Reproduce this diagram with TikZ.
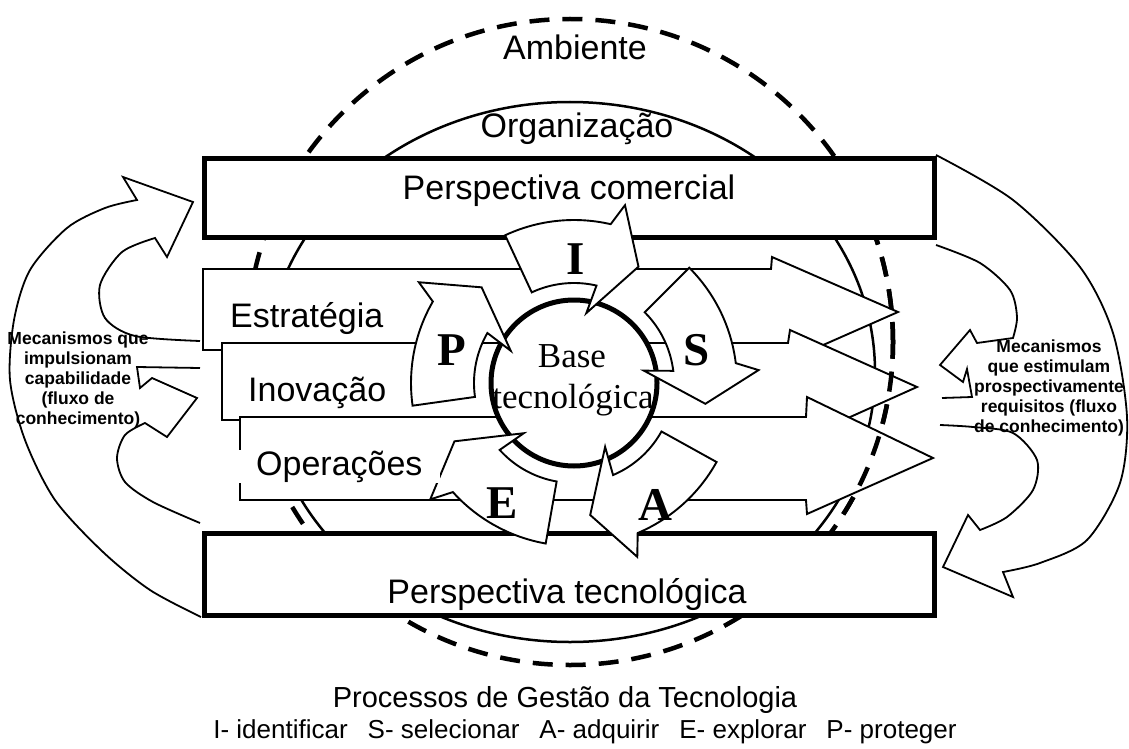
\documentclass[tikz,border=0pt]{standalone}
\usepackage{fontspec}
\setmainfont{Liberation Sans}
\newfontfamily\serifface{Liberation Serif}

% one curved process arrow around the technology base, #1 = start angle
\newcommand\ringarrow[1]{%
  \draw[ringarrow] plot[domain=#1:#1-38, samples=24, variable=\t]
      ({574+163*cos(\t)},{383-163*sin(\t)})
    -- ({574+185*cos(#1-41)},{383-185*sin(#1-41)})
    -- ({574+133*cos(#1-54)},{383-133*sin(#1-54)})
    -- ({574+71*cos(#1-35)},{383-71*sin(#1-35)})
    -- plot[domain=#1-38:#1, samples=24, variable=\t]
      ({574+100*cos(\t)},{383-100*sin(\t)})
    -- cycle;}

\begin{document}
\begin{tikzpicture}[x=1pt,y=-1pt,
  envline/.style={line width=4.5pt, dash pattern=on 20pt off 13pt},
  orgline/.style={line width=2.5pt},
  bigbox/.style={draw, line width=5pt, fill=white},
  band/.style={draw, line width=1.9pt, fill=white, line join=miter},
  ringarrow/.style={draw, line width=1.9pt, fill=white, line join=miter},
  sidearrow/.style={draw, line width=1.8pt, line join=miter},
  label/.style={font=\fontsize{34}{40}\selectfont, anchor=base, inner sep=0pt},
  sidetext/.style={font=\bfseries\fontsize{17.5}{20}\selectfont, align=center, inner sep=0pt},
  letter/.style={font=\serifface\bfseries\fontsize{47}{47}\selectfont, inner sep=0pt},
  basetext/.style={font=\serifface\fontsize{35}{41}\selectfont, anchor=base, inner sep=0pt},
]
\useasboundingbox[fill=white] (0,0) rectangle (1129,749);

% environment and organisation boundaries
\draw[envline] (570,342) circle[radius=323pt];
\draw[orgline] (570,372) ellipse[x radius=305pt, y radius=270pt];

% commercial and technological perspectives
\draw[bigbox] (204,158) rectangle (934,237);
\draw[bigbox] (204,533) rectangle (934,615);

% strategy, innovation and operations bands
\draw[band] (203,269) -- (771,269) -- (772,257) -- (898,312) -- (771,368) -- (771,350) -- (203,350) -- cycle;
\draw[band] (222,343) -- (788,343) -- (790,330) -- (917,387) -- (790,444) -- (788,420) -- (222,420) -- cycle;
\draw[band] (240,417) -- (806,417) -- (807,397) -- (933,458) -- (807,514) -- (806,500) -- (240,500) -- cycle;

% environment boundary passing over the arrow heads
\begin{scope}
  \clip (840,240) rectangle (960,530);
  \draw[envline] (570,342) circle[radius=323pt];
\end{scope}

% technology base and the five processes
\draw[line width=5pt, fill=white] (574,383) circle[radius=83pt];
\ringarrow{115}
\ringarrow{45}
\ringarrow{-29}
\ringarrow{-100}
\ringarrow{188}

\node[letter] (lI) at (576,259) {I};
\node[letter] (lS) at (697,350) {S};
\node[letter] (lA) at (655,505) {A};
\node[letter] (lE) at (502,503) {E};
\node[letter] (lP) at (452,350) {P};

\node[basetext] (base1) at (572,367) {Base};
\node[basetext] (base2) at (573,408) {tecnológica};

% labels
\node[label] (amb) at (575,60) {Ambiente};
\node[label] (org) at (577,137) {Organização};
\node[label] (com) at (569,199) {Perspectiva comercial};
\node[label] (tec) at (567,603) {Perspectiva tecnológica};
\node[label, anchor=base west] (est) at (230,327) {Estratégia};
\node[label, anchor=base west] (ino) at (248,401) {Inovação};
\node[label, anchor=base west, fill=white, inner xsep=17pt, inner ysep=1pt] (ope) at (239,475) {Operações};

% capability push (left)
\draw[sidearrow] plot[smooth] coordinates {(201,617) (150,590) (103,552) (55,500) (25,440) (10,380) (14,320) (30,270) (67,228) (105,208) (137,200)}
  -- (123,177) -- (193,202) -- (167,257) -- (155,238)
  -- plot[smooth] coordinates {(155,238) (122,252) (100,285) (105,318) (135,336) (200,341)};
\draw[sidearrow] (200,368) -- (137,367) -- (140,388) -- (152,378) -- (197,398) -- (167,437) -- (145,423)
  -- plot[smooth] coordinates {(145,423) (125,435) (117,458) (125,482) (153,502) (200,523)};

% requirements pull (right)
\draw[sidearrow] plot[smooth] coordinates {(936,155) (1013,200) (1080,267) (1113,333) (1127,417) (1120,483) (1087,540) (1040,563) (1003,572)}
  -- (1013,597) -- (943,567) -- (968,515) -- (980,530)
  -- plot[smooth] coordinates {(980,530) (1007,517) (1033,490) (1037,460) (1013,433) (973,427) (940,425)};
\draw[sidearrow] plot[smooth] coordinates {(936,245) (980,263) (1010,290) (1017,317) (1013,338)}
  -- (977,343) -- (970,330) -- (940,365) -- (963,382) -- (967,369) -- (972,397) -- (942,398);

\node[sidetext] (lefttext) at (78,380) {Mecanismos que\\impulsionam\\capabilidade\\(fluxo de\\conhecimento)};
\node[sidetext] (righttext) at (1049,388) {Mecanismos\\que estimulam\\prospectivamente\\requisitos (fluxo\\de conhecimento)};

% caption
\node[font=\fontsize{29}{34}\selectfont, anchor=base, inner sep=0pt] (proc) at (565,707) {Processos de Gestão da Tecnologia};
\node[font=\fontsize{26}{34}\selectfont, anchor=base, inner sep=0pt] (steps) at (585,738)
  {I- identificar\hspace{20pt}S- selecionar\hspace{20pt}A- adquirir\hspace{20pt}E- explorar\hspace{20pt}P- proteger};
\end{tikzpicture}
\end{document}
